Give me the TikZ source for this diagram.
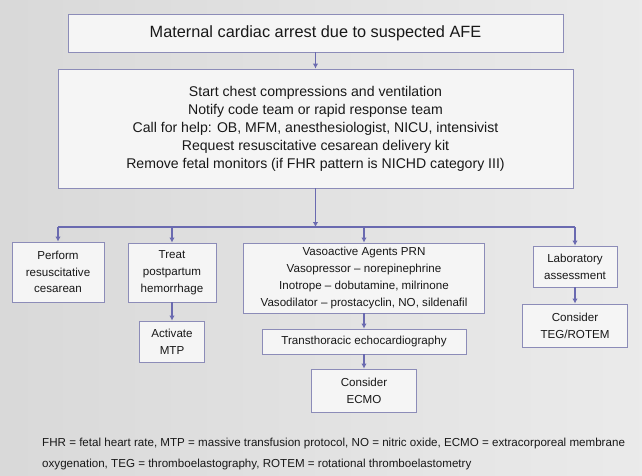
\documentclass[tikz,border=0pt]{standalone}
\usepackage{fontspec}
\setmainfont{Liberation Sans}
\usepackage{tikz}
\usetikzlibrary{calc,arrows.meta}
\definecolor{frame}{HTML}{8C8CB8}
\definecolor{link}{HTML}{6A6AB0}
\definecolor{ink}{HTML}{181818}
\newcommand{\headsize}{\fontsize{16.3}{20}\selectfont}
\newcommand{\listsize}{\fontsize{14.1}{18}\selectfont}
\newcommand{\boxsize}{\fontsize{11.6}{16.8}\selectfont}

\begin{document}
\begin{tikzpicture}[>={Latex[length=5pt,width=5.5pt]},x=1pt,y=-1pt,
  box/.style={draw=frame,line width=0.9pt,fill=black!4,text=ink,align=center,inner sep=0pt,font=\boxsize},
  flow/.style={->,link,line width=1.5pt},
  busline/.style={link,line width=1.8pt}]
  % background
  \shade[left color=black!15,middle color=black!2,right color=black!8] (0,0) rectangle (642,475);
  \useasboundingbox (0,0) rectangle (642,475);
  % top of the chart
  \node[box,font=\headsize,minimum width=495,minimum height=38] (arrest) at (315.5,33)
    {Maternal cardiac arrest due to suspected AFE};
  \node[box,font=\listsize,minimum width=515,minimum height=119] (actions) at (315.5,128.5)
    {Start chest compressions and ventilation\\
     Notify code team or rapid response team\\
     Call for help: OB, MFM, anesthesiologist, NICU, intensivist\\
     Request resuscitative cesarean delivery kit\\
     Remove fetal monitors (if FHR pattern is NICHD category III)};
  % branches
  \node[box,minimum width=92,minimum height=60] (cesarean) at (58,272)
    {Perform\\resuscitative\\cesarean};
  \node[box,minimum width=88,minimum height=59] (pph) at (172,272.5)
    {Treat\\postpartum\\hemorrhage};
  \node[box,minimum width=65,minimum height=41] (mtp) at (172,341.5) {Activate\\MTP};
  \node[box,minimum width=241,minimum height=70] (vaso) at (364,278)
    {Vasoactive Agents PRN\\
     Vasopressor -- norepinephrine\\
     Inotrope -- dobutamine, milrinone\\
     Vasodilator -- prostacyclin, NO, sildenafil};
  \node[box,minimum width=204,minimum height=25] (tte) at (364,341.5)
    {Transthoracic echocardiography};
  \node[box,minimum width=105,minimum height=43] (ecmo) at (364,390.5) {Consider\\ECMO};
  \node[box,minimum width=84,minimum height=41] (lab) at (575,266.5) {Laboratory\\assessment};
  \node[box,minimum width=105,minimum height=43] (teg) at (575,325.5) {Consider\\TEG/ROTEM};
  % connectors
  \coordinate (bus) at (315.5,227);
  \draw[flow] (arrest) -- (actions);
  \draw[flow] (actions) -- (bus);
  \draw[busline] (cesarean.north |- bus) -- (lab.north |- bus);
  \foreach \n in {cesarean,pph,vaso,lab}
    \draw[flow] (\n.north |- bus) -- (\n.north);
  \draw[flow] (pph) -- (mtp);
  \draw[flow] (vaso) -- (tte);
  \draw[flow] (tte) -- (ecmo);
  \draw[flow] (lab) -- (teg);
  % abbreviations
  \node[anchor=west,align=left,inner sep=0pt,text=ink,font=\fontsize{11.6}{21}\selectfont] (notes) at (42,453.5)
    {FHR = fetal heart rate, MTP = massive transfusion protocol, NO = nitric oxide, ECMO = extracorporeal membrane\\
     oxygenation, TEG = thromboelastography, ROTEM = rotational thromboelastometry};
\end{tikzpicture}
\end{document}
